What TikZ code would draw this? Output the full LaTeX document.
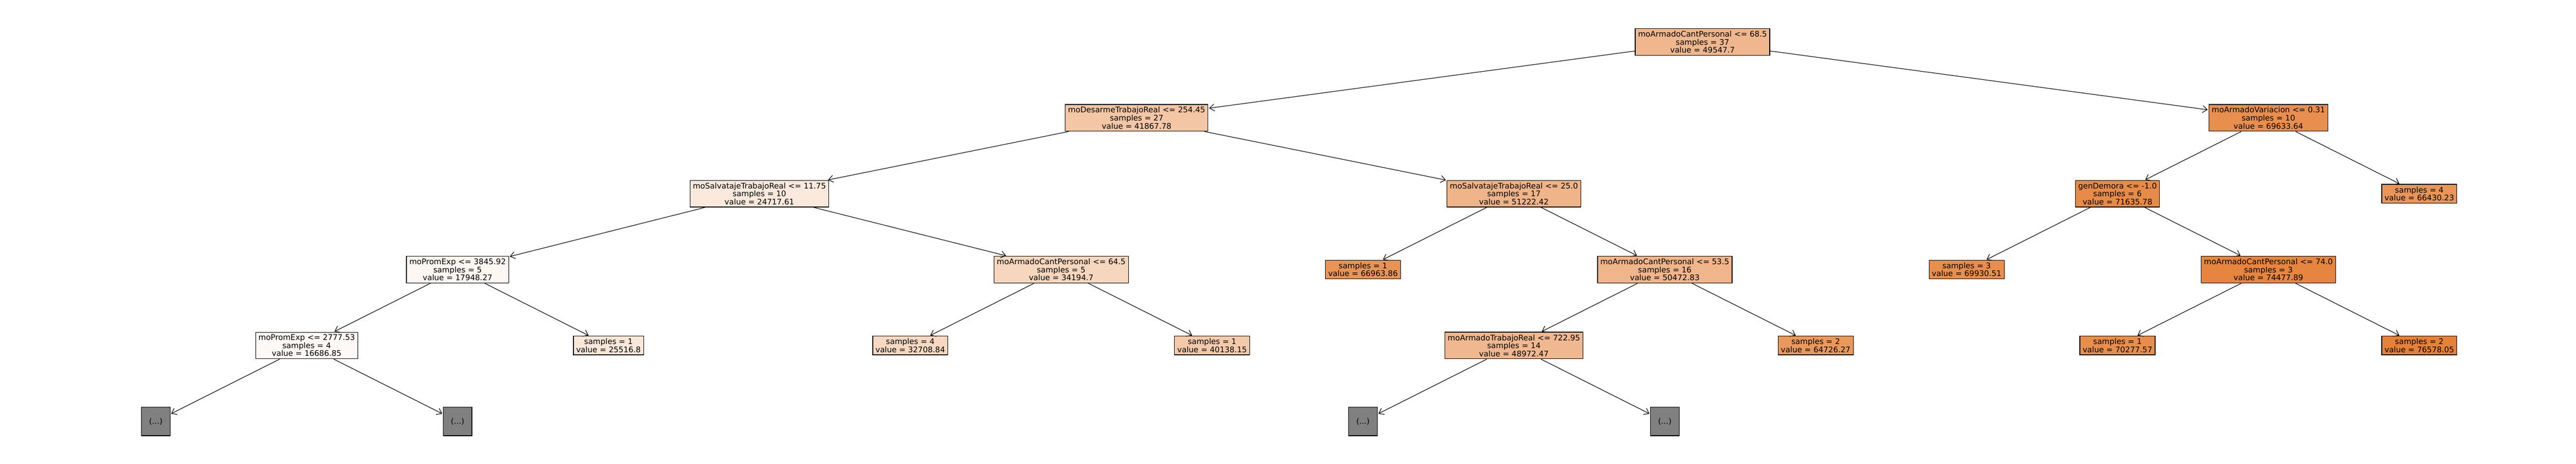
\documentclass[tikz,border=0pt]{standalone}
\usepackage{fontspec}
\setmainfont{DejaVu Sans}
\usepackage{tikz}
\usetikzlibrary{arrows.meta}
\definecolor{treeorange}{RGB}{229,129,57}
\definecolor{cutgray}{RGB}{128,128,128}

\begin{document}
\begin{tikzpicture}
                      \tikzstyle{split}=[draw=black,line width=0.8pt,align=center,inner xsep=0.12cm,inner ysep=0.1cm,font=\fontsize{9.4}{9.7}\selectfont]
                      \tikzstyle{cut}=[draw=black,line width=0.8pt,fill=cutgray,minimum width=1.22cm,minimum height=1.22cm,inner sep=0pt,font=\fontsize{9.4}{9.7}\selectfont]
                      \tikzstyle{edge}=[line width=0.7pt,-{Straight Barb[length=0.2cm,width=0.3cm]},shorten >=1pt]
                      \useasboundingbox (0,0) rectangle (109.8,-19.78);
                      % depth 0 and 1
                      \node[split,fill=treeorange!57!white] (r) at (72.568,-1.79) {moArmadoCantPersonal <= 68.5\\samples = 37\\value = 49547.7};
                      \node[split,fill=treeorange!45!white] (a) at (48.448,-5.026) {moDesarmeTrabajoReal <= 254.45\\samples = 27\\value = 41867.78};
                      \node[split,fill=treeorange!89!white] (b) at (96.688,-5.026) {moArmadoVariacion <= 0.31\\samples = 10\\value = 69633.64};
                      % depth 2
                      \node[split,fill=treeorange!17.5!white] (aa) at (32.368,-8.262) {moSalvatajeTrabajoReal <= 11.75\\samples = 10\\value = 24717.61};
                      \node[split,fill=treeorange!59.7!white] (ab) at (64.528,-8.262) {moSalvatajeTrabajoReal <= 25.0\\samples = 17\\value = 51222.42};
                      \node[split,fill=treeorange!92!white] (ba) at (90.256,-8.262) {genDemora <= -1.0\\samples = 6\\value = 71635.78};
                      \node[split,fill=treeorange!84!white] (bb) at (103.12,-8.262) {samples = 4\\value = 66430.23};
                      % depth 3
                      \node[split,fill=treeorange!6.7!white] (aaa) at (19.504,-11.498) {moPromExp <= 3845.92\\samples = 5\\value = 17948.27};
                      \node[split,fill=treeorange!32.6!white] (aab) at (45.232,-11.498) {moArmadoCantPersonal <= 64.5\\samples = 5\\value = 34194.7};
                      \node[split,fill=treeorange!84.7!white] (aba) at (58.096,-11.498) {samples = 1\\value = 66963.86};
                      \node[split,fill=treeorange!58.5!white] (abb) at (70.96,-11.498) {moArmadoCantPersonal <= 53.5\\samples = 16\\value = 50472.83};
                      \node[split,fill=treeorange!89.4!white] (baa) at (83.824,-11.498) {samples = 3\\value = 69930.51};
                      \node[split,fill=treeorange!96.7!white] (bab) at (96.688,-11.498) {moArmadoCantPersonal <= 74.0\\samples = 3\\value = 74477.89};
                      % depth 4
                      \node[split,fill=treeorange!4.7!white] (aaaa) at (13.072,-14.734) {moPromExp <= 2777.53\\samples = 4\\value = 16686.85};
                      \node[split,fill=treeorange!18.8!white] (aaab) at (25.936,-14.734) {samples = 1\\value = 25516.8};
                      \node[split,fill=treeorange!30.2!white] (aaba) at (38.8,-14.734) {samples = 4\\value = 32708.84};
                      \node[split,fill=treeorange!42!white] (aabb) at (51.664,-14.734) {samples = 1\\value = 40138.15};
                      \node[split,fill=treeorange!56.1!white] (abba) at (64.528,-14.734) {moArmadoTrabajoReal <= 722.95\\samples = 14\\value = 48972.47};
                      \node[split,fill=treeorange!81.1!white] (abbb) at (77.392,-14.734) {samples = 2\\value = 64726.27};
                      \node[split,fill=treeorange!90!white] (baba) at (90.256,-14.734) {samples = 1\\value = 70277.57};
                      \node[split,fill=treeorange] (babb) at (103.12,-14.734) {samples = 2\\value = 76578.05};
                      % depth 5
                      \node[cut] (c1) at (6.64,-17.97) {(...)};
                      \node[cut] (c2) at (19.504,-17.97) {(...)};
                      \node[cut] (c3) at (58.096,-17.97) {(...)};
                      \node[cut] (c4) at (70.96,-17.97) {(...)};
                      \draw[edge] (r) -- (a);
                      \draw[edge] (r) -- (b);
                      \draw[edge] (a) -- (aa);
                      \draw[edge] (a) -- (ab);
                      \draw[edge] (b) -- (ba);
                      \draw[edge] (b) -- (bb);
                      \draw[edge] (aa) -- (aaa);
                      \draw[edge] (aa) -- (aab);
                      \draw[edge] (ab) -- (aba);
                      \draw[edge] (ab) -- (abb);
                      \draw[edge] (ba) -- (baa);
                      \draw[edge] (ba) -- (bab);
                      \draw[edge] (aaa) -- (aaaa);
                      \draw[edge] (aaa) -- (aaab);
                      \draw[edge] (aab) -- (aaba);
                      \draw[edge] (aab) -- (aabb);
                      \draw[edge] (abb) -- (abba);
                      \draw[edge] (abb) -- (abbb);
                      \draw[edge] (bab) -- (baba);
                      \draw[edge] (bab) -- (babb);
                      \draw[edge] (aaaa) -- (c1);
                      \draw[edge] (aaaa) -- (c2);
                      \draw[edge] (abba) -- (c3);
                      \draw[edge] (abba) -- (c4);
\end{tikzpicture}
\end{document}
